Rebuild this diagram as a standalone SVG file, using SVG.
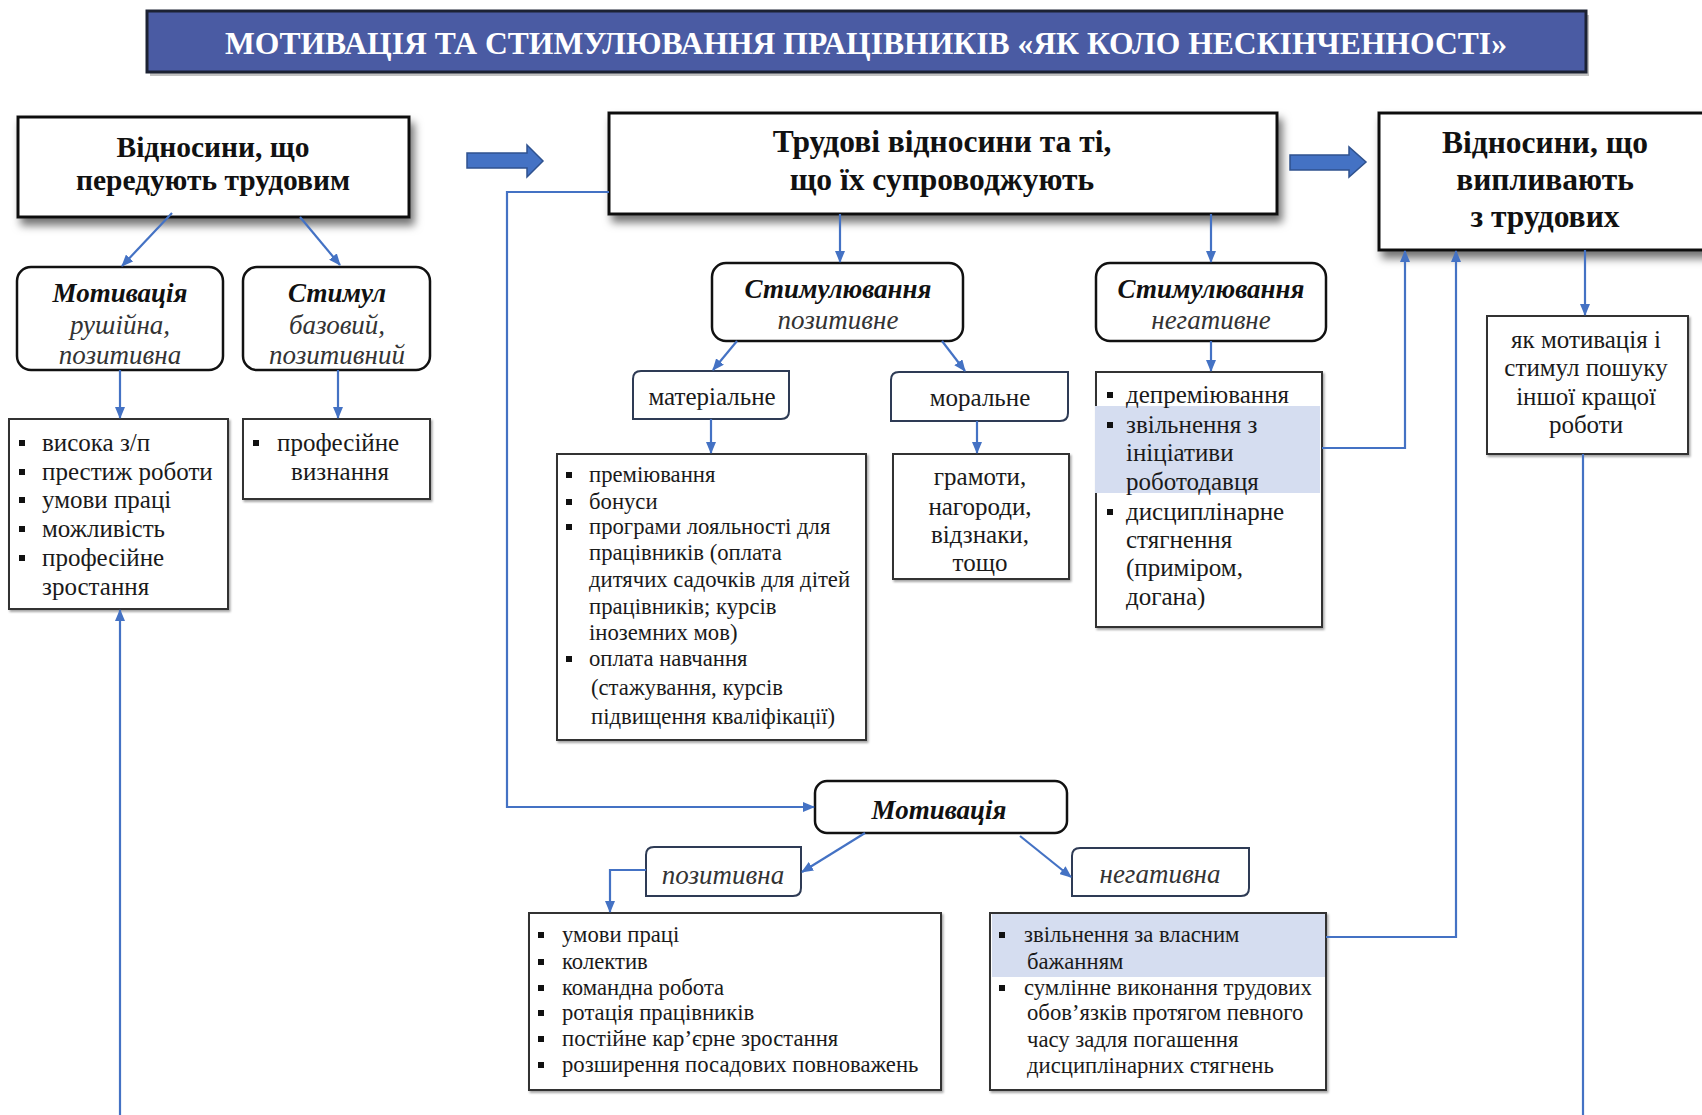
<svg xmlns="http://www.w3.org/2000/svg" width="1702" height="1115" viewBox="0 0 1702 1115">
<defs>
<filter id="sh" x="-10%" y="-10%" width="130%" height="140%">
<feDropShadow dx="4" dy="7" stdDeviation="4" flood-color="#000" flood-opacity="0.55"/>
</filter>
<filter id="sh2" x="-5%" y="-5%" width="115%" height="120%">
<feDropShadow dx="1.5" dy="2" stdDeviation="1" flood-color="#000" flood-opacity="0.35"/>
</filter>
<marker id="ah" markerUnits="userSpaceOnUse" markerWidth="12" markerHeight="10" refX="11" refY="5" orient="auto">
<path d="M0,0 L12,5 L0,10 z" fill="#4472c4"/>
</marker>
</defs>
<style>
text{font-family:"Liberation Serif","Times New Roman",serif;fill:#1a1a1a}
.h{font-size:31.5px;font-weight:bold;text-anchor:middle;fill:#111}
.h2{font-size:29.5px}
.bi{font-size:27px;font-weight:bold;font-style:italic;text-anchor:middle;fill:#111}
.it{font-size:27px;font-style:italic;text-anchor:middle;fill:#333}
.l25{font-size:25px}
.l23{font-size:22.7px}
.c{text-anchor:middle}
.top{fill:#fff;stroke:#111;stroke-width:3}
.rb{fill:#fff;stroke:#111;stroke-width:2.5}
.sb{fill:#fff;stroke:#2e3b55;stroke-width:2}
.lb{fill:#fff;stroke:#333;stroke-width:2}
.hl{fill:#d5ddf0}
.bu{fill:#111}
.cn path{fill:none;stroke:#4472c4;stroke-width:2.2}
.blk{fill:#4472c4;stroke:#2f528f;stroke-width:1.5}
</style>
<rect width="1702" height="1115" fill="#fff"/>

<g id="title">
<rect x="150" y="15" width="1439" height="61" fill="#999" opacity="0.6"/>
<rect x="147" y="11" width="1439" height="61" fill="#4a5ba3" stroke="#1c2233" stroke-width="3"/>
<text x="866" y="54" font-size="31" font-weight="bold" style="fill:#fff" text-anchor="middle" textLength="1282" lengthAdjust="spacingAndGlyphs">МОТИВАЦІЯ ТА СТИМУЛЮВАННЯ ПРАЦІВНИКІВ «ЯК КОЛО НЕСКІНЧЕННОСТІ»</text>
</g>

<g id="arrow-left"><path class="blk" d="M467,153 L527,153 L527,145 L543,161 L527,177 L527,168 L467,168 z"/></g>
<g id="arrow-right"><path class="blk" d="M1290,155 L1349,155 L1349,147 L1366,162 L1349,177 L1349,170 L1290,170 z"/></g>

<g id="n-before">
<rect class="top" x="18" y="117" width="391" height="100" filter="url(#sh)"/>
<text class="h h2" x="213" y="157">Відносини, що</text>
<text class="h h2" x="213" y="190">передують трудовим</text>
</g>
<g id="n-labour">
<rect class="top" x="609" y="113" width="668" height="101" filter="url(#sh)"/>
<text class="h" x="942" y="152">Трудові відносини та ті,</text>
<text class="h" x="942" y="190">що їх супроводжують</text>
</g>
<g id="n-after">
<rect class="top" x="1379" y="113" width="340" height="137" filter="url(#sh)"/>
<text class="h" x="1545" y="153">Відносини, що</text>
<text class="h" x="1545" y="190">випливають</text>
<text class="h" x="1545" y="227">з трудових</text>
</g>

<g id="n-motiv-left">
<rect class="rb" x="17" y="267" width="206" height="103" rx="14"/>
<text class="bi" x="120" y="302">Мотивація</text>
<text class="it" x="120" y="334">рушійна,</text>
<text class="it" x="120" y="364">позитивна</text>
</g>
<g id="n-stimul-left">
<rect class="rb" x="243" y="267" width="187" height="103" rx="14"/>
<text class="bi" x="337" y="302">Стимул</text>
<text class="it" x="337" y="334">базовий,</text>
<text class="it" x="337" y="364">позитивний</text>
</g>
<g id="n-list1">
<rect class="lb" x="9" y="419" width="219" height="190" filter="url(#sh2)"/>
<rect class="bu" x="19" y="440" width="6" height="6"/><text class="l25" x="42" y="451">висока з/п</text>
<rect class="bu" x="19" y="469" width="6" height="6"/><text class="l25" x="42" y="480">престиж роботи</text>
<rect class="bu" x="19" y="497" width="6" height="6"/><text class="l25" x="42" y="508">умови праці</text>
<rect class="bu" x="19" y="526" width="6" height="6"/><text class="l25" x="42" y="537">можливість</text>
<rect class="bu" x="19" y="555" width="6" height="6"/><text class="l25" x="42" y="566">професійне</text>
<text class="l25" x="42" y="595">зростання</text>
</g>
<g id="n-list2">
<rect class="lb" x="243" y="419" width="187" height="80" filter="url(#sh2)"/>
<rect class="bu" x="253" y="440" width="6" height="6"/><text class="l25" x="277" y="451">професійне</text>
<text class="l25 c" x="340" y="480">визнання</text>
</g>

<g id="n-stim-pos">
<rect class="rb" x="712" y="263" width="251" height="78" rx="14"/>
<text class="bi" x="838" y="298">Стимулювання</text>
<text class="it" x="838" y="329">позитивне</text>
</g>
<g id="n-stim-neg">
<rect class="rb" x="1096" y="263" width="230" height="78" rx="14"/>
<text class="bi" x="1211" y="298">Стимулювання</text>
<text class="it" x="1211" y="329">негативне</text>
</g>

<g id="n-material">
<path class="sb" d="M641,371 L789,371 L789,411 Q789,419 781,419 L633,419 L633,379 Q633,371 641,371 z"/>
<text class="l25 c" x="712" y="405">матеріальне</text>
</g>
<g id="n-moral">
<path class="sb" d="M899,372 L1068,372 L1068,413 Q1068,421 1060,421 L891,421 L891,380 Q891,372 899,372 z"/>
<text class="l25 c" x="980" y="406">моральне</text>
</g>

<g id="n-matlist">
<rect class="lb" x="557" y="454" width="309" height="286" filter="url(#sh2)"/>
<rect class="bu" x="566" y="472" width="6" height="6"/><text class="l23" x="589" y="482">преміювання</text>
<rect class="bu" x="566" y="499" width="6" height="6"/><text class="l23" x="589" y="509">бонуси</text>
<rect class="bu" x="566" y="524" width="6" height="6"/><text class="l23" x="589" y="534">програми лояльності для</text>
<text class="l23" x="589" y="560">працівників (оплата</text>
<text class="l23" x="589" y="587">дитячих садочків для дітей</text>
<text class="l23" x="589" y="614">працівників; курсів</text>
<text class="l23" x="589" y="640">іноземних мов)</text>
<rect class="bu" x="566" y="656" width="6" height="6"/><text class="l23" x="589" y="666">оплата навчання</text>
<text class="l23" x="591" y="695">(стажування, курсів</text>
<text class="l23" x="591" y="724">підвищення кваліфікації)</text>
</g>
<g id="n-morallist">
<rect class="lb" x="893" y="454" width="176" height="125" filter="url(#sh2)"/>
<text class="l25 c" x="980" y="485">грамоти,</text>
<text class="l25 c" x="980" y="515">нагороди,</text>
<text class="l25 c" x="980" y="543">відзнаки,</text>
<text class="l25 c" x="980" y="571">тощо</text>
</g>
<g id="n-neglist">
<rect class="lb" x="1096" y="372" width="226" height="255" filter="url(#sh2)"/>
<rect class="hl" x="1095" y="406" width="225" height="87"/>
<rect class="bu" x="1107" y="392" width="6" height="6"/><text class="l25" x="1126" y="403">депреміювання</text>
<rect class="bu" x="1107" y="422" width="6" height="6"/><text class="l25" x="1126" y="433">звільнення з</text>
<text class="l25" x="1126" y="461">ініціативи</text>
<text class="l25" x="1126" y="490">роботодавця</text>
<rect class="bu" x="1107" y="509" width="6" height="6"/><text class="l25" x="1126" y="520">дисциплінарне</text>
<text class="l25" x="1126" y="548">стягнення</text>
<text class="l25" x="1126" y="576">(приміром,</text>
<text class="l25" x="1126" y="605">догана)</text>
</g>
<g id="n-search">
<rect class="lb" x="1487" y="316" width="201" height="138" filter="url(#sh2)"/>
<text class="l25 c" x="1586" y="348">як мотивація і</text>
<text class="l25 c" x="1586" y="376">стимул пошуку</text>
<text class="l25 c" x="1586" y="405">іншої кращої</text>
<text class="l25 c" x="1586" y="433">роботи</text>
</g>

<g id="n-motiv-bottom">
<rect class="rb" x="815" y="781" width="252" height="52" rx="12"/>
<text class="bi" x="939" y="819">Мотивація</text>
</g>
<g id="n-pos">
<path class="sb" d="M654,847 L801,847 L801,888 Q801,896 793,896 L646,896 L646,855 Q646,847 654,847 z"/>
<text class="it" x="723" y="884">позитивна</text>
</g>
<g id="n-neg">
<path class="sb" d="M1080,848 L1249,848 L1249,888 Q1249,896 1241,896 L1072,896 L1072,856 Q1072,848 1080,848 z"/>
<text class="it" x="1160" y="883">негативна</text>
</g>
<g id="n-poslist">
<rect class="lb" x="529" y="913" width="412" height="177" filter="url(#sh2)"/>
<rect class="bu" x="538" y="932" width="6" height="6"/><text class="l23" x="562" y="942">умови праці</text>
<rect class="bu" x="538" y="959" width="6" height="6"/><text class="l23" x="562" y="969">колектив</text>
<rect class="bu" x="538" y="985" width="6" height="6"/><text class="l23" x="562" y="995">командна робота</text>
<rect class="bu" x="538" y="1010" width="6" height="6"/><text class="l23" x="562" y="1020">ротація працівників</text>
<rect class="bu" x="538" y="1036" width="6" height="6"/><text class="l23" x="562" y="1046">постійне кар’єрне зростання</text>
<rect class="bu" x="538" y="1062" width="6" height="6"/><text class="l23" x="562" y="1072">розширення посадових повноважень</text>
</g>
<g id="n-neglist2">
<rect class="lb" x="990" y="913" width="336" height="177" filter="url(#sh2)"/>
<rect class="hl" x="992" y="914" width="333" height="63"/>
<rect class="bu" x="999" y="932" width="6" height="6"/><text class="l23" x="1024" y="942">звільнення за власним</text>
<text class="l23" x="1027" y="969">бажанням</text>
<rect class="bu" x="999" y="985" width="6" height="6"/><text class="l23" x="1024" y="995">сумлінне виконання трудових</text>
<text class="l23" x="1027" y="1020">обов’язків протягом певного</text>
<text class="l23" x="1027" y="1047">часу задля погашення</text>
<text class="l23" x="1027" y="1073">дисциплінарних стягнень</text>
</g>

<g id="connectors" class="cn">
<path d="M172,213 L122,266" marker-end="url(#ah)"/>
<path d="M300,217 L340,265" marker-end="url(#ah)"/>
<path d="M120,370 L120,418" marker-end="url(#ah)"/>
<path d="M338,370 L338,418" marker-end="url(#ah)"/>
<path d="M120,1115 L120,610" marker-end="url(#ah)"/>
<path d="M609,192 L507,192 L507,807 L814,807" marker-end="url(#ah)"/>
<path d="M840,214 L840,262" marker-end="url(#ah)"/>
<path d="M1211,214 L1211,262" marker-end="url(#ah)"/>
<path d="M737,341 L713,370" marker-end="url(#ah)"/>
<path d="M942,341 L965,371" marker-end="url(#ah)"/>
<path d="M711,419 L711,453" marker-end="url(#ah)"/>
<path d="M977,421 L977,453" marker-end="url(#ah)"/>
<path d="M1211,341 L1211,371" marker-end="url(#ah)"/>
<path d="M1322,448 L1405,448 L1405,251" marker-end="url(#ah)"/>
<path d="M865,833 L802,872" marker-end="url(#ah)"/>
<path d="M1020,836 L1071,877" marker-end="url(#ah)"/>
<path d="M646,870 L610,870 L610,912" marker-end="url(#ah)"/>
<path d="M1326,937 L1456,937 L1456,251" marker-end="url(#ah)"/>
<path d="M1585,250 L1585,315" marker-end="url(#ah)"/>
<path d="M1583,454 L1583,1115"/>
</g>
</svg>
